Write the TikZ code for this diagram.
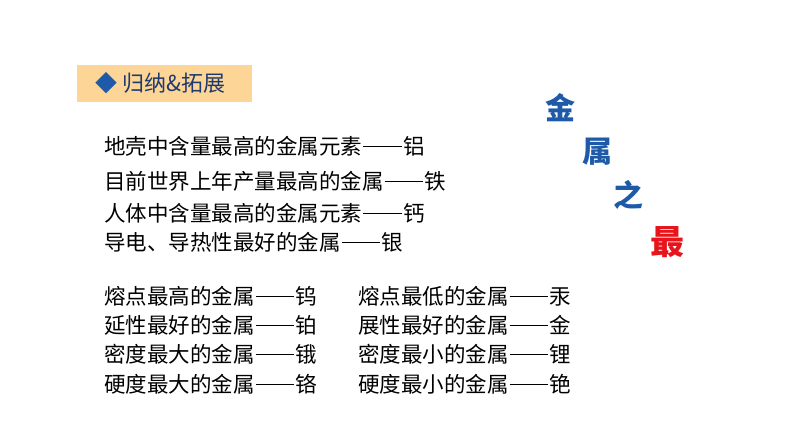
\documentclass[tikz,border=0pt]{standalone}
\usepackage{fontspec}
\newfontfamily\cjk{Noto Sans CJK SC}
\definecolor{hdr}{HTML}{FCD597}
\definecolor{navy}{HTML}{1F3A6E}
\definecolor{tblue}{HTML}{1E5AA8}
\definecolor{tred}{HTML}{E8141C}
\newcommand\dsh{\hspace{0.05em}\rule[0.33em]{1.8em}{0.06em}\hspace{0.05em}}
\begin{document}
\begin{tikzpicture}[x=1pt,y=1pt,
  txt/.style={anchor=west,inner sep=0,font=\cjk\fontsize{21.5}{23}\selectfont},
  big/.style={inner sep=0,font=\cjk\bfseries\fontsize{30}{32}\selectfont,text=tblue}]
\useasboundingbox (0,0) rectangle (794,447);
\fill[hdr] (77,345) rectangle (252,382);
\node[anchor=west,inner sep=0,font=\cjk\fontsize{22}{24}\selectfont,text=navy] (ht) at (95,363.5) {\textcolor{tblue}{◆} 归纳\&拓展};
\node[txt] (a1) at (104,301) {地壳中含量最高的金属元素\dsh 铝};
\node[txt] (a2) at (104,266) {目前世界上年产量最高的金属\dsh 铁};
\node[txt] (a3) at (104,234) {人体中含量最高的金属元素\dsh 钙};
\node[txt] (a4) at (104,205) {导电、导热性最好的金属\dsh 银};
\node[txt] (b1) at (104,151) {熔点最高的金属\dsh 钨};
\node[txt] (b2) at (104,122) {延性最好的金属\dsh 铂};
\node[txt] (b3) at (104,93) {密度最大的金属\dsh 锇};
\node[txt] (b4) at (104,63) {硬度最大的金属\dsh 铬};
\node[txt] (c1) at (358,151) {熔点最低的金属\dsh 汞};
\node[txt] (c2) at (358,122) {展性最好的金属\dsh 金};
\node[txt] (c3) at (358,93) {密度最小的金属\dsh 锂};
\node[txt] (c4) at (358,63) {硬度最小的金属\dsh 铯};
\node[big] (t1) at (560,339) {金};
\node[big] (t2) at (597,295) {属};
\node[big] (t3) at (628,252) {之};
\node[big,text=tred,font=\cjk\bfseries\fontsize{34}{36}\selectfont] (t4) at (667,205) {最};
\end{tikzpicture}
\end{document}
